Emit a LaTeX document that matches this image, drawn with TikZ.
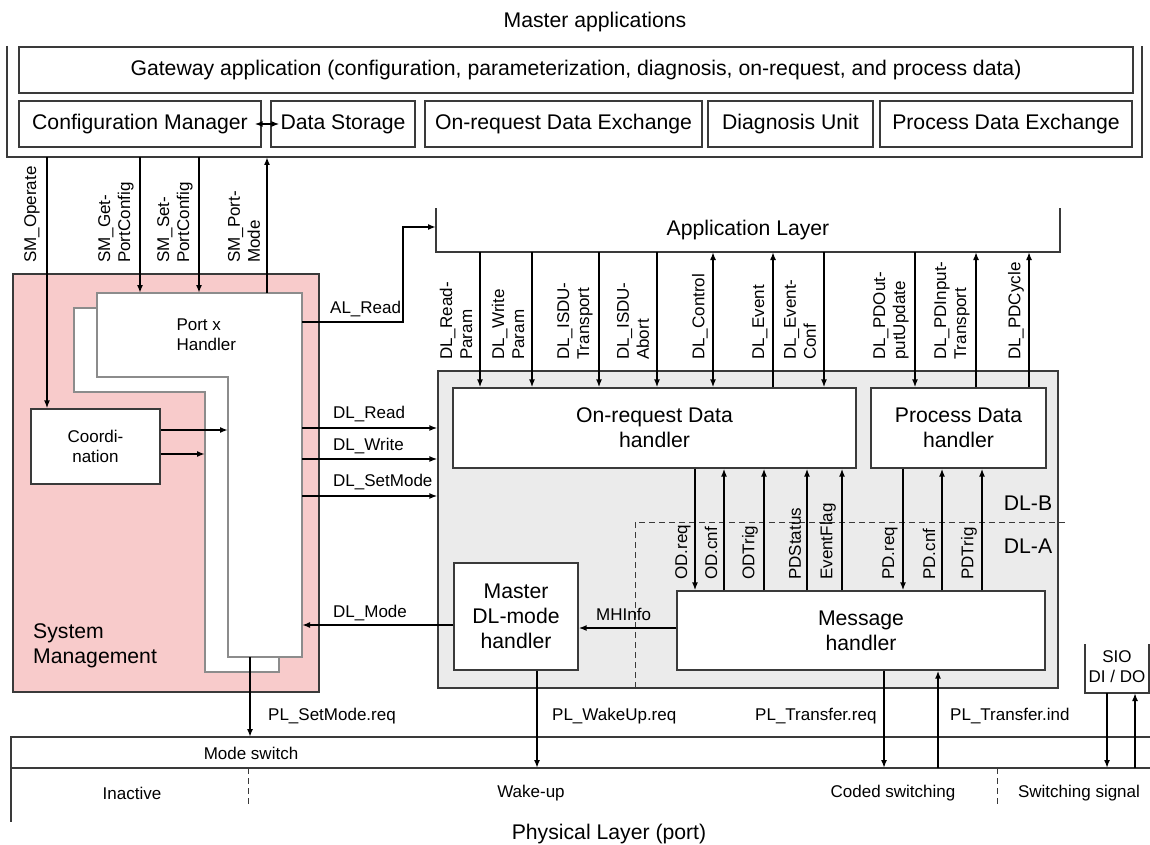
\documentclass[tikz,border=0pt]{standalone}
\usepackage{fontspec}
\setmainfont{Liberation Sans}
\usetikzlibrary{arrows.meta}
\definecolor{ln}{HTML}{3A3A3A}
\definecolor{lgray}{HTML}{8C8C8C}
\definecolor{pinkc}{HTML}{F8CBCB}
\definecolor{dlgray}{HTML}{EBEBEB}
\begin{document}
\begin{tikzpicture}[x=1pt,y=-1pt,
 big/.style={font=\fontsize{21.2}{25}\selectfont},
 sml/.style={font=\fontsize{17}{20}\selectfont},
 box/.style={draw=ln, line width=1.3pt, fill=white, inner sep=0pt, align=center, big},
 ghost/.style={inner sep=0pt, outer sep=0pt, draw=none},
 arr/.style={line width=1.8pt, -{Latex[length=8pt,width=6pt]}},
 darr/.style={line width=1.8pt, {Latex[length=8pt,width=6pt]}-{Latex[length=8pt,width=6pt]}},
 rlab/.style={sml, rotate=90, anchor=west, align=left, inner sep=0pt},
 lab/.style={sml, anchor=west, inner sep=0pt},
 bracket/.style={draw=ln, line width=1.3pt},
 dsh/.style={draw=ln, line width=1pt, dash pattern=on 6pt off 4pt},
 lshape/.style={draw=lgray, line width=1.5pt, fill=white},
]
\useasboundingbox (0,0) rectangle (1150,845);

% ---------- Master applications ----------
\node[big] (title) at (595,22) {Master applications};
\node[ghost, minimum width=1135, minimum height=111] (master) at (574.5,101.5) {};
\draw[bracket] (master.north west) -- (master.south west) -- (master.south east) -- (master.north east);
\node[box, minimum width=1114, minimum height=46] (gw) at (576,70) {Gateway application (configuration, parameterization, diagnosis, on-request, and process data)};
\node[box, minimum width=242, minimum height=46] (cfgmgr) at (140,124) {Configuration Manager};
\node[box, minimum width=144, minimum height=46] (datast) at (343,124) {Data Storage};
\node[box, minimum width=277, minimum height=46] (ordx) at (563.5,124) {On-request Data Exchange};
\node[box, minimum width=165, minimum height=46] (diag) at (790.5,124) {Diagnosis Unit};
\node[box, minimum width=252, minimum height=46] (pdx) at (1006,124) {Process Data Exchange};
\draw[darr, line width=1.5pt] ([xshift=-7pt]cfgmgr.east) -- ([xshift=9pt]datast.west);

% ---------- System Management ----------
\node[draw=ln, line width=1.3pt, fill=pinkc, minimum width=306, minimum height=418, inner sep=0pt] (sysm) at (166,483) {};
\node[big, align=left, anchor=west, inner sep=0pt] (sysmt) at (33,646) {System\\Management};

% Port x handler (two L shapes)
\draw[lshape] (74,308) -- (279,308) -- (279,672) -- (205,672) -- (205,392) -- (74,392) -- cycle;
\draw[lshape] (97,293) -- (302,293) -- (302,657) -- (228,657) -- (228,377) -- (97,377) -- cycle;
\coordinate (fcol) at (228,377);
\coordinate (bcol) at (205,392);
\node[ghost, minimum width=205, minimum height=364] (portx) at (199.5,475) {};
\node[sml, align=left, anchor=west] (portxt) at (173,335) {Port x\\Handler};

\node[box, sml, minimum width=129, minimum height=75] (coord) at (95.5,446.5) {Coordi-\\nation};
\draw[arr] (coord.east |- 0,430) -- (fcol |- 0,430);
\draw[arr] (coord.east |- 0,454) -- (bcol |- 0,454);

% SM arrows
\draw[arr] (master.south -| 47,0) -- (coord.north -| 47,0);
\draw[arr] (master.south -| 140,0) -- (portx.north -| 140,0);
\draw[arr] (master.south -| 199,0) -- (portx.north -| 199,0);
\draw[arr] (portx.north -| 267,0) -- (master.south -| 267,0);
\node[rlab] (lsmop) at (32,263) {SM\_Operate};
\node[rlab] (lsmget) at (116,263) {SM\_Get-\\PortConfig};
\node[rlab] (lsmset) at (175,263) {SM\_Set-\\PortConfig};
\node[rlab] (lsmport) at (244,263) {SM\_Port-\\Mode};

% ---------- Application layer ----------
\node[ghost, minimum width=624, minimum height=44] (al) at (748,230) {};
\draw[bracket] (al.north west) -- (al.south west) -- (al.south east) -- (al.north east);
\node[big] (alt) at (748,230) {Application Layer};
\draw[arr] (portx.east |- 0,322) -- (403,322) -- (403,227) -- (al.west |- 0,227);
\node[lab] (lalr) at (330,309) {AL\_Read};

% ---------- Data link layer ----------
\node[draw=ln, line width=1.3pt, fill=dlgray, minimum width=620, minimum height=317, inner sep=0pt] (dlbox) at (748,529.5) {};
\draw[dsh] (635,688) -- (635,522) -- (1065,522);
\node[box, minimum width=403, minimum height=80] (ordh) at (654.5,428) {On-request Data\\handler};
\node[box, minimum width=175, minimum height=80] (pdh) at (958.5,428) {Process Data\\handler};
\node[box, minimum width=124, minimum height=107] (mdl) at (516,616.5) {Master\\DL-mode\\handler};
\node[box, minimum width=368, minimum height=79] (msgh) at (861,630.5) {Message\\handler};
\node[big] (dlb) at (1028,503) {DL-B};
\node[big] (dla) at (1028,546) {DL-A};

% DL service arrows from port handler
\draw[arr] (portx.east |- 0,428) -- (dlbox.west |- 0,428);
\draw[arr] (portx.east |- 0,459) -- (dlbox.west |- 0,459);
\draw[arr] (portx.east |- 0,496) -- (dlbox.west |- 0,496);
\draw[arr] (mdl.west |- 0,625) -- (portx.east |- 0,625);
\node[lab] (ldlr) at (333,414) {DL\_Read};
\node[lab] (ldlw) at (333,446) {DL\_Write};
\node[lab] (ldls) at (333,482) {DL\_SetMode};
\node[lab] (ldlm) at (333,613) {DL\_Mode};

% AL <-> handlers
\draw[arr] (al.south -| 480,0) -- (ordh.north -| 480,0);
\draw[arr] (al.south -| 532,0) -- (ordh.north -| 532,0);
\draw[arr] (al.south -| 599,0) -- (ordh.north -| 599,0);
\draw[arr] (al.south -| 657,0) -- (ordh.north -| 657,0);
\draw[darr] (al.south -| 713,0) -- (ordh.north -| 713,0);
\draw[arr] (ordh.north -| 773,0) -- (al.south -| 773,0);
\draw[arr] (al.south -| 824,0) -- (ordh.north -| 824,0);
\draw[arr] (al.south -| 915,0) -- (pdh.north -| 915,0);
\draw[arr] (pdh.north -| 976,0) -- (al.south -| 976,0);
\draw[arr] (pdh.north -| 1029,0) -- (al.south -| 1029,0);
\node[rlab] (la1) at (456,360) {DL\_Read-\\Param};
\node[rlab] (la2) at (508,360) {DL\_Write\\Param};
\node[rlab] (la3) at (575,360) {DL\_ISDU-\\Transport};
\node[rlab] (la4) at (633,360) {DL\_ISDU-\\Abort};
\node[rlab] (la5) at (700,360) {DL\_Control};
\node[rlab] (la6) at (760,360) {DL\_Event};
\node[rlab] (la7) at (800,360) {DL\_Event-\\Conf};
\node[rlab] (la8) at (891,360) {DL\_PDOut-\\putUpdate};
\node[rlab] (la9) at (952,360) {DL\_PDInput-\\Transport};
\node[rlab] (la10) at (1016,360) {DL\_PDCycle};

% handlers <-> message handler
\draw[arr] (ordh.south -| 695,0) -- (msgh.north -| 695,0);
\draw[arr] (msgh.north -| 724,0) -- (ordh.south -| 724,0);
\draw[arr] (msgh.north -| 764,0) -- (ordh.south -| 764,0);
\draw[arr] (msgh.north -| 807,0) -- (ordh.south -| 807,0);
\draw[arr] (msgh.north -| 842,0) -- (ordh.south -| 842,0);
\draw[arr] (pdh.south -| 903,0) -- (msgh.north -| 903,0);
\draw[arr] (msgh.north -| 942,0) -- (pdh.south -| 942,0);
\draw[arr] (msgh.north -| 982,0) -- (pdh.south -| 982,0);
\node[rlab] (lm1) at (683,580) {OD.req};
\node[rlab] (lm2) at (711,580) {OD.cnf};
\node[rlab] (lm3) at (750,580) {ODTrig};
\node[rlab] (lm4) at (795,580) {PDStatus};
\node[rlab] (lm5) at (828,580) {EventFlag};
\node[rlab] (lm6) at (890,580) {PD.req};
\node[rlab] (lm7) at (929,580) {PD.cnf};
\node[rlab] (lm8) at (969,580) {PDTrig};

\draw[arr] (msgh.west |- 0,628) -- (mdl.east |- 0,628);
\node[lab] (lmh) at (596,614) {MHInfo};

% ---------- SIO ----------
\node[ghost, minimum width=64, minimum height=49] (sio) at (1117,668.5) {};
\draw[bracket] (sio.north west) -- (sio.south west) -- (sio.south east) -- (sio.north east);
\node[sml, align=center] (siot) at (1117,667) {SIO\\DI / DO};

% ---------- Physical layer ----------
\node[ghost, minimum width=1139, minimum height=31] (phys) at (580.5,752.5) {};
\draw[bracket] (phys.north east) -- (phys.north west) -- ++(0,85);
\draw[bracket] (phys.south west) -- (phys.south east);
\node[sml] (msw) at (251,753) {Mode switch};
\draw[dsh] (phys.south -| 248,0) -- ++(0,37);
\draw[dsh] (phys.south -| 997,0) -- ++(0,37);
\node[sml] (pin) at (132,793) {Inactive};
\node[sml] (pwk) at (531,793) {Wake-up};
\node[sml] (pcs) at (893,793) {Coded switching};
\node[sml] (pss) at (1079,793) {Switching signal};
\node[big] (physt) at (609,834) {Physical Layer (port)};

\draw[arr] (portx.south -| 250,0) -- (phys.north -| 250,0);
\draw[arr] (mdl.south -| 537,0) -- (phys.south -| 537,0);
\draw[arr] (msgh.south -| 884,0) -- (phys.south -| 884,0);
\draw[arr] (phys.south -| 938,0) -- (msgh.south -| 938,0);
\draw[arr] (sio.south -| 1107,0) -- (phys.south -| 1107,0);
\draw[arr] (phys.south -| 1135,0) -- (sio.south -| 1135,0);
\node[lab] (lpl1) at (268,716) {PL\_SetMode.req};
\node[lab] (lpl2) at (552,716) {PL\_WakeUp.req};
\node[lab] (lpl3) at (755,716) {PL\_Transfer.req};
\node[lab] (lpl4) at (950,716) {PL\_Transfer.ind};
\end{tikzpicture}
\end{document}
